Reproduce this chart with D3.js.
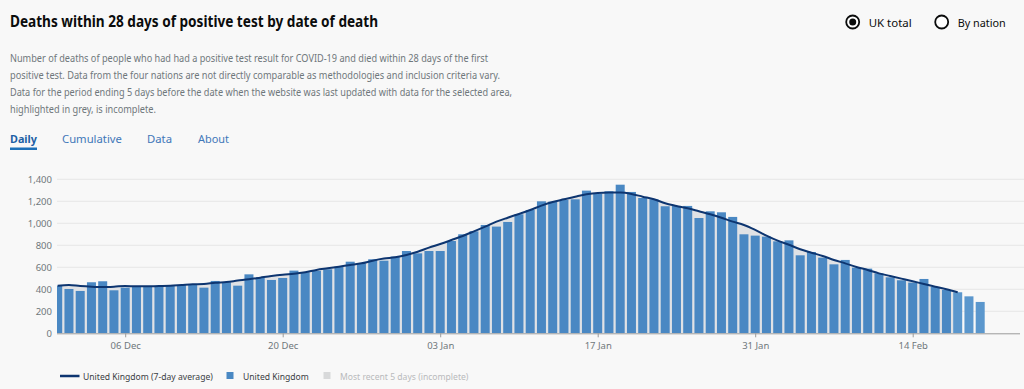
<!DOCTYPE html>
<html>
<head>
<meta charset="utf-8">
<script src="https://cdn.jsdelivr.net/npm/d3@7"></script>
<style>
  html, body { margin: 0; padding: 0; background: #f8f8f8; }
  svg { display: block; font-family: "Noto Sans", sans-serif; }
</style>
</head>
<body>
<svg id="chart" width="1024" height="389"></svg>
<script>
// data (UK, 30 Nov 2020 .. 20 Feb 2021)
const startDate = "2020-11-30";
const dailyDeaths = [433, 403, 385, 464, 473, 391, 415, 427, 427, 433, 436, 439, 439, 415, 476, 464, 433, 536, 509, 485, 503, 570,
    555, 568, 582, 606, 651, 636, 673, 660, 697, 748, 727, 748, 748, 839, 900, 927, 985, 970, 1012, 1082, 1121,
    1200, 1197, 1212, 1218, 1297, 1267, 1291, 1351, 1285, 1230, 1218, 1155, 1158, 1158, 1048, 1109, 1100, 1058, 900, 888, 879, 836,
    845, 709, 739, 688, 627, 667, 597, 588, 545, 509, 482, 461, 494, 421, 394, 373, 336, 285];
const rollingAverage = [433, 439, 430, 424, 421, 424, 430, 427, 427, 430, 433, 439, 445, 448, 460, 466, 479, 491, 506, 521, 533, 542,
    554, 576, 591, 606, 621, 636, 660, 679, 691, 712, 742, 779, 812, 848, 885, 927, 970, 1015, 1051, 1085, 1121,
    1161, 1194, 1218, 1242, 1264, 1276, 1279, 1279, 1267, 1242, 1218, 1182, 1158, 1136, 1109, 1082, 1051, 1015, 985, 940, 888, 842,
    805, 764, 733, 703, 667, 636, 603, 576, 545, 521, 497, 473, 448, 424, 400, 373];
const lighterCount = 3;
const yTicks = [0, 200, 400, 600, 800, 1000, 1200, 1400];
const xTicks = ["2020-12-06", "2020-12-20", "2021-01-03", "2021-01-17", "2021-01-31", "2021-02-14"];

const title = "Deaths within 28 days of positive test by date of death";
const description = [
    "Number of deaths of people who had had a positive test result for COVID-19 and died within 28 days of the first",
    "positive test. Data from the four nations are not directly comparable as methodologies and inclusion criteria vary.",
    "Data for the period ending 5 days before the date when the website was last updated with data for the selected area,",
    "highlighted in grey, is incomplete."
];
const tabs = ["Daily", "Cumulative", "Data", "About"];
const radios = ["UK total", "By nation"];
const legendLabels = ["United Kingdom (7-day average)", "United Kingdom", "Most recent 5 days (incomplete)"];

const parse = d3.utcParse("%Y-%m-%d");
const start = parse(startDate);
const dates = dailyDeaths.map((d, i) => d3.utcDay.offset(start, i));

const svg = d3.select("#chart");

// fit a text's font size so it spans the given width
function fit(sel, w) {
    let fs = parseFloat(sel.attr("font-size"));
    let cur = sel.node().getComputedTextLength();
    sel.attr("font-size", (fs * w / cur).toFixed(2));
    return fs * w / cur;
}

// squeeze a text to a width, keeping its height
function squeeze(sel, w) {
    if (sel.node().getComputedTextLength() > w)
        sel.attr("textLength", w).attr("lengthAdjust", "spacingAndGlyphs");
}

// header
let t = svg.append("text").attr("x", 10).attr("y", 27)
    .attr("font-size", 15.5).attr("font-weight", 700).attr("fill", "#0b0c0c").text(title);
squeeze(t, 368);

let descW = [478, 490, 502, 146];
description.forEach((line, i) => {
    let el = svg.append("text").attr("x", 10).attr("y", 61.5 + i * 17.2)
        .attr("font-size", 11.3).attr("fill", "#6f777b").text(line);
    squeeze(el, descW[i]);
});

let tabX = [10, 62, 147, 198], tabW = [27, 60, 25, 31];
tabs.forEach((name, i) => {
    let el = svg.append("text").attr("x", tabX[i]).attr("y", 142.5)
        .attr("font-size", 13).attr("font-weight", i == 0 ? 700 : 400)
        .attr("fill", i == 0 ? "#1d5fa5" : "#3f77b8").text(name);
    fit(el, tabW[i]);
});
svg.append("rect").attr("x", 10).attr("y", 147.5).attr("width", 27).attr("height", 2.5).attr("fill", "#1d70b8");

let radioX = [852.7, 941.7], radioW = [43, 48];
radios.forEach((name, i) => {
    svg.append("circle").attr("cx", radioX[i]).attr("cy", 22).attr("r", 6.5)
        .attr("fill", "#fff").attr("stroke", "#0b0c0c").attr("stroke-width", 1.8);
    if (i == 0) svg.append("circle").attr("cx", radioX[i]).attr("cy", 22).attr("r", 3.5).attr("fill", "#0b0c0c");
    let el = svg.append("text").attr("x", radioX[i] + 16).attr("y", 26.5)
        .attr("font-size", 12.5).attr("fill", "#0b0c0c").text(name);
    fit(el, radioW[i]);
});

// chart
const plotLeft = 57, plotRight = 1024, plotTop = 179.3, plotBottom = 333.3;
const x = d3.scaleUtc()
    .domain([start, dates[dates.length - 1]])
    .range([57.7, 57.7 + 11.25 * (dates.length - 1)]);
const y = d3.scaleLinear().domain([0, 1400]).range([plotBottom, plotTop]);

svg.append("defs").append("clipPath").attr("id", "plot")
    .append("rect").attr("x", plotLeft).attr("y", 0).attr("width", plotRight - plotLeft).attr("height", plotBottom);

// grid
svg.append("g").selectAll("line").data(yTicks.slice(1)).join("line")
    .attr("x1", plotLeft).attr("x2", plotRight)
    .attr("y1", d => y(d)).attr("y2", d => y(d))
    .attr("stroke", "#e6e6e6").attr("stroke-width", 1);

const yAxis = svg.append("g").attr("transform", `translate(${plotLeft},0)`)
    .call(d3.axisLeft(y).tickValues(yTicks).tickFormat(d3.format(",")).tickSize(0).tickPadding(5));
yAxis.select(".domain").remove();
yAxis.selectAll("text").attr("font-size", 9.5).attr("fill", "#6f777b").attr("font-family", "Noto Sans");

const plot = svg.append("g").attr("clip-path", "url(#plot)");

const avgPoints = rollingAverage.map((v, i) => [dates[i], v]);
plot.append("path").datum(avgPoints)
    .attr("fill", "#e0e2e5")
    .attr("d", d3.area().curve(d3.curveMonotoneX).x(d => x(d[0])).y0(plotBottom).y1(d => y(d[1])));

const barW = 9;
plot.append("g").selectAll("rect").data(dailyDeaths).join("rect")
    .attr("x", (d, i) => x(dates[i]) - barW / 2)
    .attr("width", barW)
    .attr("y", d => y(d))
    .attr("height", d => plotBottom - y(d))
    .attr("fill", (d, i) => i >= dailyDeaths.length - lighterCount ? "#5b97cd" : "#4a88c3");

plot.append("path").datum(avgPoints)
    .attr("fill", "none").attr("stroke", "#0d3570").attr("stroke-width", 2)
    .attr("d", d3.line().curve(d3.curveMonotoneX).x(d => x(d[0])).y(d => y(d[1])));

// x axis
const xAxis = svg.append("g").attr("transform", `translate(0,${plotBottom})`)
    .call(d3.axisBottom(x).tickValues(xTicks.map(parse)).tickFormat(d3.utcFormat("%d %b")).tickSize(4).tickPadding(5));
xAxis.select(".domain").attr("d", `M${plotLeft},0.5H${plotRight - 4}`).attr("stroke", "#9a9a9a");
xAxis.selectAll(".tick line").attr("stroke", "#9a9a9a");
xAxis.selectAll("text").attr("font-size", 9.5).attr("fill", "#6f777b").attr("font-family", "Noto Sans");

// legend
const legend = svg.append("g");
legend.append("line").attr("x1", 60).attr("x2", 79.5).attr("y1", 376).attr("y2", 376)
    .attr("stroke", "#0d3570").attr("stroke-width", 2.5);
legend.append("rect").attr("x", 226.5).attr("y", 372).attr("width", 7).attr("height", 7).attr("fill", "#4a88c3");
legend.append("rect").attr("x", 323.5).attr("y", 372).attr("width", 7).attr("height", 7).attr("fill", "#d8d9da");
let legX = [83, 243, 340], legW = [130, 66, 134], legSize = 10;
legendLabels.forEach((name, i) => {
    let el = legend.append("text").attr("x", legX[i]).attr("y", 379.5)
        .attr("font-size", legSize).attr("fill", i == 2 ? "#b8babc" : "#3b4044").text(name);
    if (i == 0) legSize = fit(el, legW[0]);
    else el.attr("font-size", legSize.toFixed(2));
});
</script>
</body>
</html>
